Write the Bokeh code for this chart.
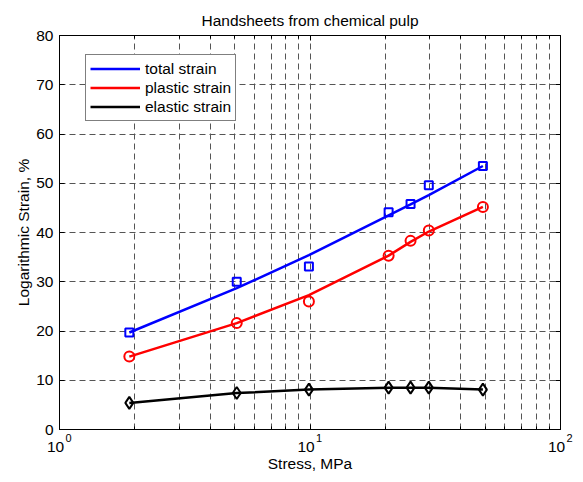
from bokeh.plotting import figure
from bokeh.models import (Range1d, FixedTicker, LinearAxis, LogAxis,
                          Legend, LegendItem)
from bokeh.embed import file_html
from bokeh.resources import INLINE

# ---- data ----
stress = [1.9, 5.1, 9.9, 20.6, 25.2, 29.8, 49.0]
total_strain = [19.7, 30.0, 33.1, 44.1, 45.8, 49.6, 53.5]
plastic_strain = [14.8, 21.6, 26.0, 35.3, 38.3, 40.4, 45.2]
elastic_strain = [5.4, 7.4, 8.1, 8.5, 8.5, 8.5, 8.1]
total_fit = [19.7, 28.7, 35.4, 43.5, 45.7, 47.6, 53.5]
plastic_fit = [14.8, 21.6, 27.3, 35.3, 38.1, 40.2, 45.2]

x_major = [1, 10, 100]
x_minor = [2, 3, 4, 5, 6, 7, 8, 9, 20, 30, 40, 50, 60, 70, 80, 90]
x_base = "10"
x_exp = ["0", "1", "2"]
y_ticks = [0, 10, 20, 30, 40, 50, 60, 70, 80]

title_text = "Handsheets from chemical pulp"
x_label = "Stress, MPa"
y_label = "Logarithmic Strain, %"
series_names = ["total strain", "plastic strain", "elastic strain"]

FONT = "Liberation Sans"
FS = "15.5px"
BLUE = "#0000ff"
RED = "#ff0000"
BLACK = "#000000"
GRID = "#555555"
FIG_SP = "\u2007"   # figure space, used to nudge exponent to the right
EN_SP = "\u2002"    # en space, used to nudge the base slightly left

p = figure(width=575, height=474, x_axis_type="log",
           x_range=Range1d(1, 100), y_range=Range1d(0, 80),
           output_backend="svg", toolbar_location=None,
           min_border_left=59, min_border_right=15,
           min_border_top=35, min_border_bottom=44,
           title=title_text)

p.title.align = "center"
p.title.text_font = FONT
p.title.text_font_size = FS
p.title.text_font_style = "normal"
p.title.text_color = BLACK
p.title.standoff = 13

p.outline_line_color = BLACK
p.outline_line_width = 1
p.background_fill_color = "white"
p.border_fill_color = "white"

xticker = FixedTicker(ticks=x_major, minor_ticks=x_minor)
xticker_major = FixedTicker(ticks=x_major, minor_ticks=[])
yticker = FixedTicker(ticks=y_ticks, minor_ticks=[])

# exponent axis, directly under the frame (carries the ticks and axis line)
sup_axis = LogAxis(ticker=xticker,
                   major_label_overrides={t: FIG_SP * 3 + e for t, e in zip(x_major, x_exp)},
                   major_label_text_font=FONT, major_label_text_font_size="11px",
                   major_label_text_color=BLACK, major_label_standoff=2,
                   major_tick_in=5, major_tick_out=0, minor_tick_in=3, minor_tick_out=0,
                   major_tick_line_color=BLACK, minor_tick_line_color=BLACK,
                   axis_line_color=BLACK)

# base "10" labels and the axis title
xa = p.xaxis[0]
xa.ticker = xticker_major
xa.major_label_overrides = {t: x_base + EN_SP for t in x_major}
xa.major_label_text_font = FONT
xa.major_label_text_font_size = FS
xa.major_label_text_color = BLACK
xa.major_label_standoff = -9
xa.major_tick_line_color = None
xa.minor_tick_line_color = None
xa.major_tick_in = 0
xa.major_tick_out = 0
xa.minor_tick_in = 0
xa.minor_tick_out = 0
xa.axis_line_color = None
xa.axis_label = x_label
xa.axis_label_text_font = FONT
xa.axis_label_text_font_size = FS
xa.axis_label_text_font_style = "normal"
xa.axis_label_text_color = BLACK
xa.axis_label_standoff = -3

p.below = [sup_axis, xa]

ya = p.yaxis[0]
ya.ticker = yticker
ya.major_tick_in = 5
ya.major_tick_out = 0
ya.minor_tick_in = 0
ya.minor_tick_out = 0
ya.major_tick_line_color = BLACK
ya.major_label_standoff = 6
ya.major_label_text_font = FONT
ya.major_label_text_font_size = FS
ya.major_label_text_color = BLACK
ya.axis_label = y_label
ya.axis_label_text_font = FONT
ya.axis_label_text_font_size = FS
ya.axis_label_text_font_style = "normal"
ya.axis_label_text_color = BLACK
ya.axis_label_standoff = 1
ya.axis_line_color = BLACK

top = LogAxis(ticker=xticker, major_label_overrides={t: "" for t in x_major},
              major_tick_in=5, major_tick_out=0, minor_tick_in=3, minor_tick_out=0,
              major_tick_line_color=BLACK, minor_tick_line_color=BLACK,
              axis_line_color=BLACK)
p.add_layout(top, "above")
right = LinearAxis(ticker=yticker, major_label_overrides={t: "" for t in y_ticks},
                   major_tick_in=5, major_tick_out=0, minor_tick_in=0, minor_tick_out=0,
                   major_tick_line_color=BLACK, axis_line_color=BLACK)
p.add_layout(right, "right")

xg = p.xgrid[0]
xg.ticker = xticker
yg = p.ygrid[0]
yg.ticker = yticker
for g in (xg, yg):
    g.grid_line_color = GRID
    g.grid_line_dash = "6 4"
    g.grid_line_width = 1
xg.minor_grid_line_color = GRID
xg.minor_grid_line_dash = "6 4"
xg.minor_grid_line_width = 1

# ---- series ----
l_total = p.line(stress, total_fit, line_color=BLUE, line_width=2.5)
p.scatter(stress, total_strain, marker="square", size=8, fill_color=None,
          line_color=BLUE, line_width=2)
l_plastic = p.line(stress, plastic_fit, line_color=RED, line_width=2.5)
p.scatter(stress, plastic_strain, marker="circle", size=10, fill_color=None,
          line_color=RED, line_width=2)
l_elastic = p.line(stress, elastic_strain, line_color=BLACK, line_width=2.5)
p.scatter(stress, elastic_strain, marker="diamond", size=12, fill_color=None,
          line_color=BLACK, line_width=2)

legend = Legend(items=[LegendItem(label=series_names[0], renderers=[l_total]),
                       LegendItem(label=series_names[1], renderers=[l_plastic]),
                       LegendItem(label=series_names[2], renderers=[l_elastic])],
                location=(26, 308))
legend.border_line_color = BLACK
legend.border_line_width = 1
legend.background_fill_color = "white"
legend.background_fill_alpha = 1
legend.label_text_font = FONT
legend.label_text_font_size = FS
legend.label_text_color = BLACK
legend.glyph_width = 50
legend.glyph_height = 19
legend.label_height = 19
legend.spacing = 0
legend.padding = 4
legend.margin = 0
legend.label_standoff = 5
p.add_layout(legend)

open("out.html", "w").write(file_html(p, INLINE))
